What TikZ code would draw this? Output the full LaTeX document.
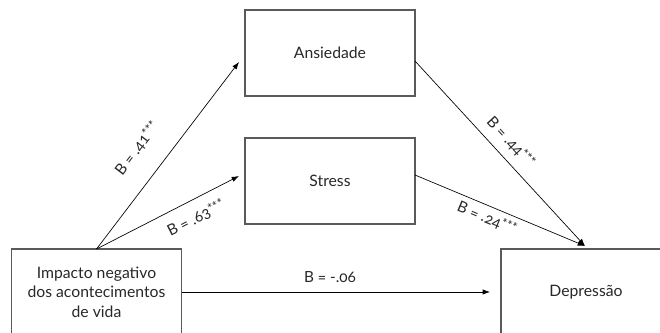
\documentclass[tikz,border=0pt]{standalone}
\usepackage{fontspec}
\setmainfont[Numbers=OldStyle]{Lato}
\usepackage{tikz}
\usetikzlibrary{arrows.meta,positioning,calc}
\definecolor{boxgray}{RGB}{90,90,90}
\definecolor{inkgray}{RGB}{40,40,40}
\newcommand{\sigstars}{\raisebox{0.35ex}{\fontsize{9.5}{9.5}\selectfont ***}}
\tikzset{
    varbox/.style={draw=boxgray, line width=0.9pt, outer sep=0pt, minimum width=127.5pt, minimum height=64.5pt, align=center, text=inkgray, font=\fontsize{11.8}{14.5}\selectfont},
    patharrow/.style={line width=0.5pt, -{Latex[length=5.5pt,width=4pt]}},
    coeflabel/.style={text=inkgray, inner sep=1pt, font=\fontsize{11.5}{13}\selectfont}
}
\begin{document}
\begin{tikzpicture}[x=0.75pt,y=0.75pt]
    \clip (0,0) rectangle (660,332);
    \node[varbox] (ans) at (330,279) {Ansiedade};
    \node[varbox] (stress) at (330,151) {Stress};
    \node[varbox] (imp) at (96.5,40) {Impacto negativo\\dos acontecimentos\\de vida};
    \node[varbox] (dep) at (586,40) {Depressão};

    \draw[patharrow] (imp.north) -- ([shift={(-6,-9)}]ans.west);
    \draw[patharrow] (imp.north) -- ([shift={(-6,5)}]stress.west);
    \draw[patharrow] ([shift={(0,-8)}]ans.east) -- ([shift={(-1,3)}]dep.north);
    \draw[patharrow] ([shift={(0,6)}]stress.east) -- ([shift={(-1,3)}]dep.north);
    \draw[patharrow] (imp.east) -- ([shift={(-11,0)}]dep.west);

    \node[coeflabel, rotate=52.6] (b41) at (137,184) {B = .41\sigstars};
    \node[coeflabel, rotate=27] (b63) at (196,114) {B = .63\sigstars};
    \node[coeflabel, rotate=-47.4] (b44) at (511,190) {B = .44\sigstars};
    \node[coeflabel, rotate=-22.7] (b24) at (487,114) {B = .24\sigstars};
    \node[coeflabel] (b06) at (330,55) {B = -.06};
\end{tikzpicture}
\end{document}
